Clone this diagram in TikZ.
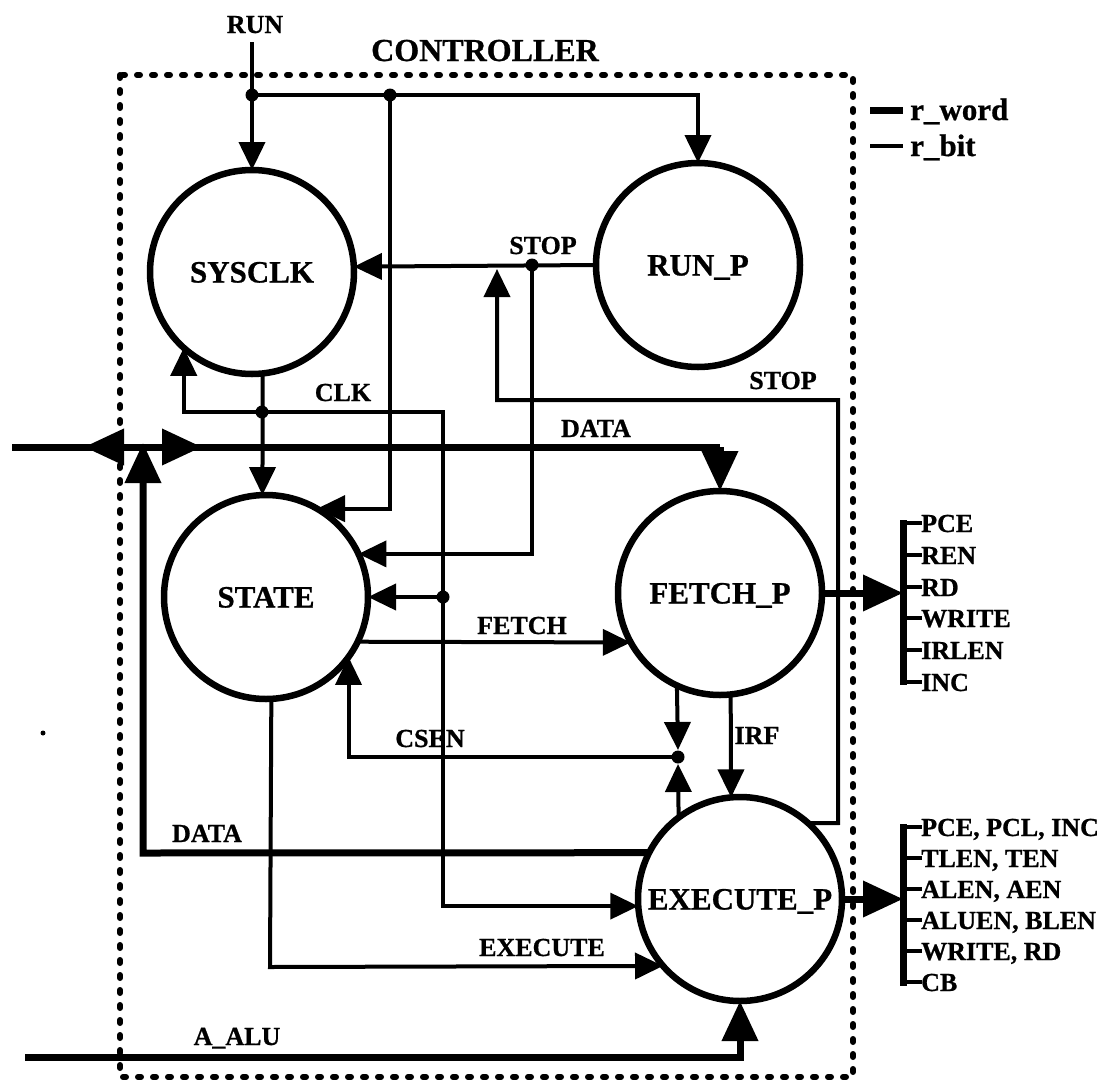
\documentclass[tikz,border=0pt]{standalone}
\usepackage{fontspec}
\setmainfont{Liberation Serif}[BoldFeatures={FakeBold=0.8}]
\usetikzlibrary{arrows.meta}
\begin{document}
\begin{tikzpicture}[x=1pt,y=-1pt,
  wire/.style={line width=4pt},
  bus/.style={line width=7pt},
  sa/.style={-{Triangle[length=28pt,width=26pt]}},
  ba/.style={-{Triangle[length=40pt,width=35pt]}},
  proc/.style={circle, draw, line width=6.5pt, minimum size=204pt, inner sep=0pt, outer sep=0pt,
    font=\fontsize{31}{34}\selectfont\bfseries, text height=21pt, text depth=0pt},
  lbl/.style={inner sep=0pt, font=\fontsize{26}{28}\selectfont\bfseries, text height=18pt, text depth=0pt},
  big/.style={inner sep=0pt, font=\fontsize{32}{34}\selectfont\bfseries, text height=22pt, text depth=0pt},
  leg/.style={inner sep=0pt, font=\fontsize{31}{34}\selectfont\bfseries},
  jdot/.style={fill=black},
  border/.style={line width=6pt, line cap=round, dash pattern=on 3pt off 12pt}
]
\useasboundingbox (0,0) rectangle (1117,1082);

% controller border
\draw[border] (120,75) rectangle (853,1077);
\node[big] (ctl) at (485,50) {CONTROLLER};

% processes
\node[proc] (sysclk) at (252,272) {SYSCLK};
\node[proc] (runp) at (698,265) {RUN\_P};
\node[proc] (state) at (266,597) {STATE};
\node[proc] (fetchp) at (720,593) {FETCH\_P};
\node[proc] (execp) at (740,899) {EXECUTE\_P};

% coordinates
\coordinate (runin) at (252,42);
\coordinate (j1) at (252,95);
\coordinate (j2) at (390,95);
\coordinate (j3) at (532,265);
\coordinate (s1) at (838,823);
\coordinate (s2) at (838,400);
\coordinate (s3) at (497,400);
\coordinate (s4) at (497,269);
\coordinate (j4) at (262,412);
\coordinate (c1) at (443,412);
\coordinate (j5) at (443,597);
\coordinate (dL) at (12,447);
\coordinate (dJ) at (143,447);
\coordinate (dLt) at (84,447);
\coordinate (dRt) at (202,447);
\coordinate (dC) at (720,447);
\coordinate (dB) at (143,853);
\coordinate (dUp) at (143,443);
\coordinate (j6) at (678,757);
\coordinate (j6a) at (678,750);
\coordinate (j6b) at (678,764);
\coordinate (e1) at (270,967);
\coordinate (aL) at (25,1057);
\coordinate (aC) at (740,1057);
\coordinate (fo) at (903,593);
\coordinate (eo) at (903,899);

% RUN
\node[lbl] (lrun) at (255,24) {RUN};
\draw[wire,sa] (runin) -- (sysclk.north);
\draw[wire,sa] (j1) -| (runp.north);
\draw[wire,sa] (j2) |- (state.60.8);

% STOP
\draw[wire,sa] (runp.west) -- (sysclk.3.9);
\draw[wire,sa] (j3) |- (state.25.6);
\draw[wire,sa] (execp.48.2) -- (s1) -- (s2) -- (s3) -- (s4);
\node[lbl] (lstop1) at (543,245) {STOP};
\node[lbl] (lstop2) at (783,380) {STOP};

% CLK
\draw[wire,sa] (sysclk.-84.4) -- (state.92.2);
\draw[wire,sa] (j4) -| (sysclk.228.2);
\draw[wire,sa] (j4) -- (c1) |- (execp.184.5);
\draw[wire,sa] (j5) -- (state.east);
\node[lbl] (lclk) at (343,392) {CLK};

% DATA bus
\draw[bus] (dL) -- (dC);
\draw[bus,ba] (dJ) -- (dLt);
\draw[bus,ba] (dJ) -- (dRt);
\draw[bus,ba] (dC) -- (fetchp.north);
\draw[bus,ba] (execp.153.2) -- (dB) -- (dUp);
\node[lbl] (ldata1) at (596,428) {DATA};
\node[lbl] (ldata2) at (207,833) {DATA};

% FETCH
\draw[wire,sa] (state.-26.8) -- (fetchp.209.3);
\node[lbl] (lfetch) at (522,625) {FETCH};

% CSEN
\draw[wire,sa] (fetchp.245.7) -- (j6a);
\draw[wire,sa] (execp.127.4) -- (j6b);
\draw[wire,sa] (j6) -| (state.-36.5);
\node[lbl] (lcsen) at (430,738) {CSEN};

% IRF
\draw[wire,sa] (fetchp.-84.4) -- (execp.95.6);
\node[lbl] (lirf) at (757,735) {IRF};

% EXECUTE
\draw[wire,sa] (state.-87.8) -- (e1) -- (execp.221.8);
\node[lbl] (lexec) at (542,947) {EXECUTE};

% A_ALU
\draw[bus,ba] (aL) -- (aC) -- (execp.south);
\node[lbl] (lalu) at (237,1036) {A\_ALU};

% junction dots
\foreach \p in {j1,j2,j3,j4,j5,j6} \fill[jdot] (\p) circle (6.5pt);
\fill[jdot] (43,733) circle (2.5pt);

% outputs of FETCH_P
\draw[bus,ba] (fetchp.east) -- (fo);
\draw[bus] (903,520) -- (903,685);
\foreach \y/\t in {523/PCE,555/REN,587/RD,618/WRITE,650/IRLEN,682/INC}{
  \draw[wire] (903,\y) -- (922,\y);
  \node[lbl,anchor=west] (fo\t) at (921,\y) {\t};
}

% outputs of EXECUTE_P
\draw[bus,ba] (execp.east) -- (eo);
\draw[bus] (903,824) -- (903,986);
\foreach \y/\t/\n in {827/{PCE, PCL, INC}/a,858/{TLEN, TEN}/b,889/{ALEN, AEN}/c,920/{ALUEN, BLEN}/d,951/{WRITE, RD}/e,982/CB/f}{
  \draw[wire] (903,\y) -- (922,\y);
  \node[lbl,anchor=west] (eo\n) at (921,\y) {\t};
}

% legend
\draw[bus] (870,110) -- (903,110);
\node[leg,anchor=base west] (lword) at (910,120) {r\_word};
\draw[wire] (870,146) -- (903,146);
\node[leg,anchor=base west] (lbit) at (910,156) {r\_bit};
\end{tikzpicture}
\end{document}
